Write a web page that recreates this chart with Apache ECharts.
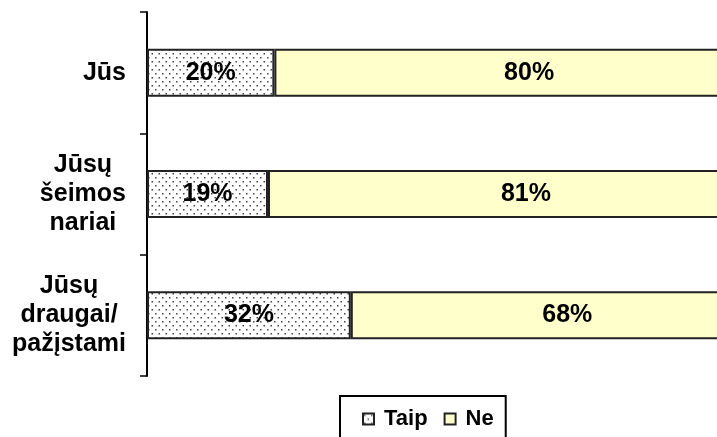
<!DOCTYPE html>
<html>
<head>
<meta charset="utf-8">
<script src="https://cdn.jsdelivr.net/npm/echarts@6/dist/echarts.min.js"></script>
<style>html,body{margin:0;padding:0;background:#fff}#c{width:717px;height:437px}</style>
</head>
<body>
<div id="c"></div>
<script>
const categories = ['Jūs', 'Jūsų\nšeimos\nnariai', 'Jūsų\ndraugai/\npažįstami'];
const seriesNames = ['Taip', 'Ne'];
const taipValues = [20, 19, 32];
const neValues = [80, 81, 68];

const FONT = '"Liberation Sans", Arial, Helvetica, sans-serif';

function makeDots() {
  const c = document.createElement('canvas');
  c.width = 7; c.height = 8;
  const g = c.getContext('2d');
  g.fillStyle = '#ffffff';
  g.fillRect(0, 0, 7, 8);
  g.fillStyle = '#444444';
  g.fillRect(1, 1, 1.5, 1.5);
  g.fillRect(4.5, 5, 1.5, 1.5);
  return c;
}
const dotPattern = { image: makeDots(), repeat: 'repeat' };

const chart = echarts.init(document.getElementById('c'), null, { renderer: 'canvas' });
const labelStyle = {
  show: true,
  position: 'inside',
  formatter: '{c}%',
  color: '#000',
  fontFamily: FONT,
  fontWeight: 'bold',
  fontSize: 25
};
chart.setOption({
  animation: false,
  backgroundColor: '#fff',
  grid: { left: 147, top: 12, right: 0, height: 364, containLabel: false },
  xAxis: {
    type: 'value', min: 0, max: 89.5,
    show: false
  },
  yAxis: {
    type: 'category',
    data: categories,
    inverse: true,
    axisLine: { show: true, lineStyle: { color: '#000', width: 2 } },
    axisTick: { show: true, length: 7, inside: false, lineStyle: { color: '#000', width: 1.5 } },
    axisLabel: {
      margin: 21,
      align: 'right',
      color: '#000',
      fontFamily: FONT,
      fontWeight: 'bold',
      fontSize: 25,
      lineHeight: 29,
      formatter: function (v) {
        return v.split('\n').map(function (l) { return '{b|' + l + '}'; }).join('\n');
      },
      rich: {
        b: { align: 'center', color: '#000', fontFamily: FONT, fontWeight: 'bold', fontSize: 25, lineHeight: 29 }
      }
    },
    splitLine: { show: false }
  },
  legend: {
    left: 340, top: 396,
    data: seriesNames,
    orient: 'horizontal',
    icon: 'rect',
    itemWidth: 11, itemHeight: 11,
    itemGap: 16,
    padding: [12, 12, 30, 22],
    borderColor: '#000',
    borderWidth: 2,
    textStyle: { color: '#000', fontFamily: FONT, fontWeight: 'bold', fontSize: 22, padding: [0, 0, 0, 5] }
  },
  series: [
    {
      name: seriesNames[0], type: 'bar', stack: 'all', clip: false,
      data: taipValues, barWidth: 48,
      itemStyle: { color: dotPattern, borderColor: '#222', borderWidth: 2 },
      label: labelStyle
    },
    {
      name: seriesNames[1], type: 'bar', stack: 'all', clip: false,
      data: neValues, barWidth: 48,
      itemStyle: { color: '#FFFFCC', borderColor: '#222', borderWidth: 2 },
      label: labelStyle
    }
  ]
});
</script>
</body>
</html>
